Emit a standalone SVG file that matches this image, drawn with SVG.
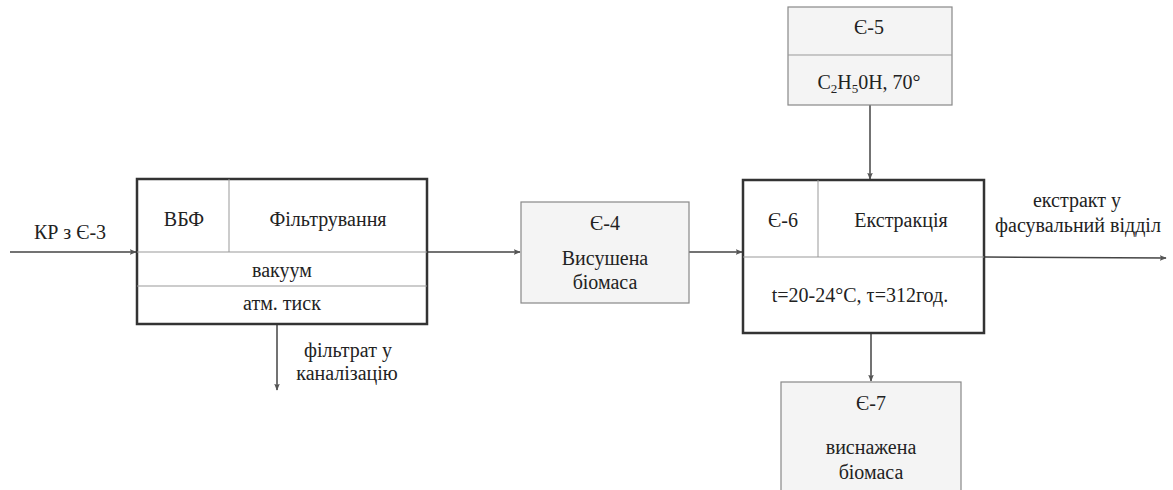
<svg xmlns="http://www.w3.org/2000/svg" width="1173" height="490" viewBox="0 0 1173 490">
<defs>
<marker id="arr" viewBox="0 0 10 10" refX="9" refY="5" markerWidth="7" markerHeight="7" markerUnits="userSpaceOnUse" orient="auto">
<path d="M0,1 L10,5 L0,9 L2,5 Z" fill="#555"/>
</marker>
</defs>
<style>
.main{fill:#fff;stroke:#333;stroke-width:2.5}
.aux{fill:#f4f4f4;stroke:#888;stroke-width:1.2}
.div{stroke:#999;stroke-width:1;fill:none}
.con{stroke:#444;stroke-width:1.5;fill:none;marker-end:url(#arr)}
</style>
<rect width="1173" height="490" fill="#fff"/>
<g id="connectors">
<line class="con" x1="10" y1="252" x2="136" y2="252"/>
<line class="con" x1="428" y1="252" x2="520" y2="252"/>
<line class="con" x1="689" y1="252" x2="742" y2="252"/>
<line class="con" x1="870" y1="105" x2="870" y2="179"/>
<line class="con" x1="985" y1="257" x2="1166" y2="258"/>
<line class="con" x1="871" y1="334" x2="871" y2="381"/>
<line class="con" x1="277" y1="325" x2="277" y2="390"/>
</g>
<g id="labels" font-family="Liberation Serif" font-size="20" fill="#222" text-anchor="middle">
<text font-family="Liberation Serif" x="70" y="239">КР з Є-3</text>
<text font-family="Liberation Serif" x="348" y="357">фільтрат у</text>
<text font-family="Liberation Serif" x="347" y="380">каналізацію</text>
<text font-family="Liberation Serif" x="1077" y="207">екстракт у</text>
<text font-family="Liberation Serif" x="1078" y="232">фасувальний відділ</text>
</g>
<g id="vbf" font-family="Liberation Serif" font-size="20" fill="#222" text-anchor="middle">
<rect class="main" x="137" y="179" width="290" height="145"/>
<line class="div" x1="229" y1="179" x2="229" y2="252"/>
<line class="div" x1="137" y1="252" x2="427" y2="252"/>
<line class="div" x1="137" y1="286" x2="427" y2="286"/>
<text font-family="Liberation Serif" x="184" y="226">ВБФ</text>
<text font-family="Liberation Serif" x="328" y="226">Фільтрування</text>
<text font-family="Liberation Serif" x="282" y="277">вакуум</text>
<text font-family="Liberation Serif" x="282" y="310">атм. тиск</text>
</g>
<g id="e4" font-family="Liberation Serif" font-size="20" fill="#222" text-anchor="middle">
<rect class="aux" x="521" y="202" width="168" height="101"/>
<text font-family="Liberation Serif" x="605" y="230">Є-4</text>
<text font-family="Liberation Serif" x="605" y="265">Висушена</text>
<text font-family="Liberation Serif" x="605" y="289">біомаса</text>
</g>
<g id="e5" font-family="Liberation Serif" font-size="20" fill="#222" text-anchor="middle">
<rect class="aux" x="788" y="7" width="164" height="98"/>
<line class="div" x1="788" y1="55" x2="952" y2="55"/>
<text font-family="Liberation Serif" x="869" y="34">Є-5</text>
<text font-family="Liberation Serif" x="869" y="89">C<tspan font-size="13" dy="4">2</tspan><tspan dy="-4">H</tspan><tspan font-size="13" dy="4">5</tspan><tspan dy="-4">0H, 70°</tspan></text>
</g>
<g id="e6" font-family="Liberation Serif" font-size="20" fill="#222" text-anchor="middle">
<rect class="main" x="743" y="180" width="241" height="153"/>
<line class="div" x1="818" y1="180" x2="818" y2="257"/>
<line class="div" x1="743" y1="257" x2="984" y2="257"/>
<text font-family="Liberation Serif" x="783" y="227">Є-6</text>
<text font-family="Liberation Serif" x="901" y="227">Екстракція</text>
<text font-family="Liberation Serif" x="860" y="302">t=20-24°C, τ=312год.</text>
</g>
<g id="e7" font-family="Liberation Serif" font-size="20" fill="#222" text-anchor="middle">
<rect class="aux" x="781" y="382" width="180" height="115"/>
<text font-family="Liberation Serif" x="871" y="410">Є-7</text>
<text font-family="Liberation Serif" x="871" y="454">виснажена</text>
<text font-family="Liberation Serif" x="871" y="479">біомаса</text>
</g>
</svg>
